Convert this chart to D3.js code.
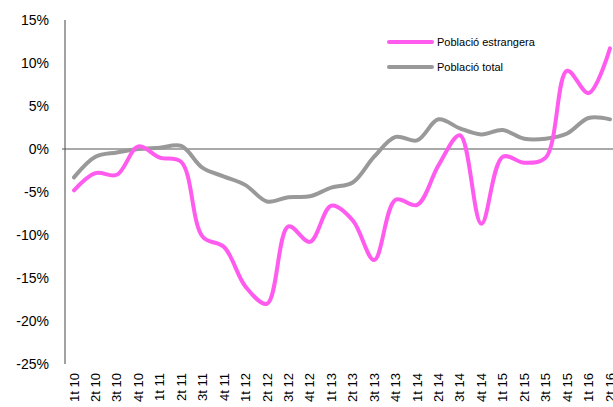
<!DOCTYPE html>
<html><head><meta charset="utf-8">
<script src="https://cdn.jsdelivr.net/npm/d3@7"></script>
<style>body{margin:0;background:#fff}svg{display:block}text{font-family:"Liberation Sans",Arial,sans-serif}</style>
</head><body>
<script>
const categories = ["1t 10","2t 10","3t 10","4t 10","1t 11","2t 11","3t 11","4t 11","1t 12","2t 12","3t 12","4t 12","1t 13","2t 13","3t 13","4t 13","1t 14","2t 14","3t 14","4t 14","1t 15","2t 15","3t 15","4t 15","1t 16","2t 16"];
const estrangera = [-4.8,-2.8,-3.0,0.3,-1.0,-1.5,-10.2,-11.4,-16.0,-18.0,-9.0,-10.8,-6.6,-8.3,-12.9,-5.9,-6.5,-1.9,1.6,-8.7,-0.9,-1.6,-1.0,9.1,6.5,11.7];
const total = [-3.3,-0.9,-0.4,0.0,0.15,0.35,-2.2,-3.2,-4.2,-6.1,-5.6,-5.5,-4.5,-3.9,-0.9,1.4,1.0,3.45,2.4,1.7,2.2,1.2,1.2,1.8,3.6,3.45];
const yTicks = [15,10,5,0,-5,-10,-15,-20,-25];
const seriesNames = ["Població estrangera","Població total"];
const colors = ["#FF5CEF","#999999"];

const W=613,H=407;
const svg=d3.select("body").append("svg").attr("width",W).attr("height",H);
const x=d3.scalePoint().domain(categories).range([74,610]);
const y=d3.scaleLinear().domain([-25,15]).range([364,20]);

// y axis line
svg.append("line").attr("x1",65).attr("x2",65).attr("y1",y(15)).attr("y2",y(-25)).attr("stroke","#444").attr("stroke-width",1);
// zero line
svg.append("line").attr("x1",62).attr("x2",W).attr("y1",y(0)).attr("y2",y(0)).attr("stroke","#555").attr("stroke-width",1);

svg.append("g").selectAll("text").data(yTicks).join("text")
  .attr("x",49).attr("y",d=>y(d)).attr("dy","0.35em").attr("text-anchor","end")
  .attr("font-size",14).attr("fill","#000").text(d=>d+"%");

svg.append("g").selectAll("text").data(categories).join("text")
  .attr("transform",d=>`translate(${x(d)},373) rotate(-90)`)
  .attr("dy","0.35em").attr("text-anchor","end").attr("font-size",13).attr("fill","#000").text(d=>d);

const line=d3.line().x((d,i)=>x(categories[i])).y(d=>y(d)).curve(d3.curveCatmullRom.alpha(0.5));
[total,estrangera].forEach((s,k)=>{
  svg.append("path").datum(s).attr("d",line).attr("fill","none")
    .attr("stroke",k===0?colors[1]:colors[0]).attr("stroke-width",4).attr("stroke-linecap","round").attr("stroke-linejoin","round");
});

const lg=svg.append("g");
seriesNames.forEach((n,i)=>{
  const ly=42+i*25;
  lg.append("line").attr("x1",389).attr("x2",432).attr("y1",ly).attr("y2",ly).attr("stroke",colors[i]).attr("stroke-width",4).attr("stroke-linecap","round");
  lg.append("text").attr("x",437).attr("y",ly).attr("dy","0.35em").attr("font-size",11).attr("fill","#000").text(n);
});
</script>
</body></html>
